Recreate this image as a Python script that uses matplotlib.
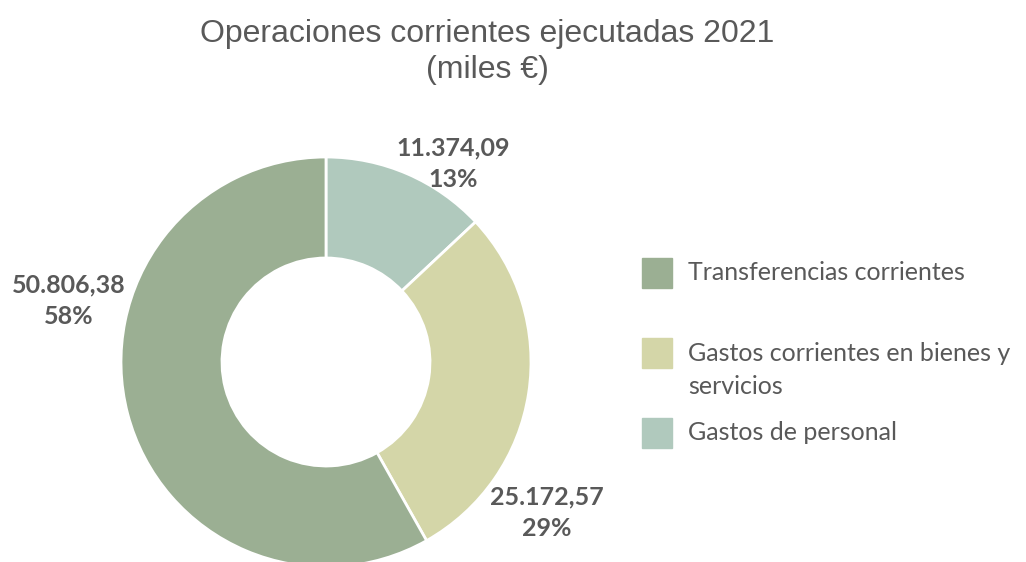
import matplotlib.pyplot as plt
from matplotlib.patches import Rectangle

# data
categories = ["Gastos de personal", "Gastos corrientes en bienes y\nservicios", "Transferencias corrientes"]
values = [11374.09, 25172.57, 50806.38]
colors = ["#B0C9BD", "#D4D6A8", "#9BAF93"]
legend_order = [2, 1, 0]

title = "Operaciones corrientes ejecutadas 2021\n(miles €)"
text_color = "#595959"
label_font = ["Lato", "DejaVu Sans"]


def fmt_es(v):
    s = f"{v:,.2f}"
    return s.replace(",", "X").replace(".", ",").replace("X", ".")


W, H = 1026, 562
fig = plt.figure(figsize=(W / 100, H / 100), dpi=100)
ax = fig.add_axes([0, 0, 1, 1])

# donut, centre and size in pixel units (y measured from the bottom)
cx, cy, r_out, r_in = 326, H - 362, 205, 104
wedges, _ = ax.pie(values, colors=colors, startangle=90, counterclock=False,
                   center=(cx, cy), radius=r_out, frame=True,
                   wedgeprops=dict(width=r_out - r_in, edgecolor="white", linewidth=2))
ax.set_xlim(0, W)
ax.set_ylim(0, H)
ax.axis("off")

# data labels (value + percentage), positions as Excel placed them
total = sum(values)
label_pos = [(453, H - 164), (547, H - 513), (69, H - 301)]
for v, (lx, ly) in zip(values, label_pos):
    ax.text(lx, ly, f"{fmt_es(v)}\n{v / total:.0%}", ha="center", va="center",
            fontsize=18, fontweight="bold", color=text_color, family=label_font,
            linespacing=1.45)

# title
ax.text(487, H - 52, title, ha="center", va="center", fontsize=23,
        color=text_color, family=["Liberation Sans", "DejaVu Sans"], linespacing=1.3)

# legend drawn by hand to match spacing
legend_y = [273, 353, 433]
for i, y in zip(legend_order, legend_y):
    ax.add_patch(Rectangle((642, H - y - 15), 30, 30, color=colors[i]))
    off = -17 if "\n" in categories[i] else 0
    ax.text(688, H - y + off, categories[i], ha="left", va="center",
            fontsize=18, color=text_color, family=label_font, linespacing=1.5)

fig.savefig("out.png", dpi=100)
